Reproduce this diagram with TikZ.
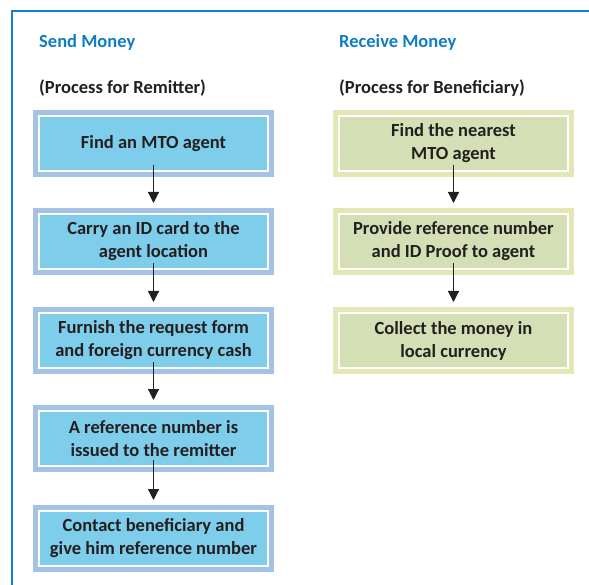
\documentclass[tikz,border=0pt]{standalone}
\usepackage{fontspec}
\setmainfont{Carlito}
\usetikzlibrary{arrows.meta}

\definecolor{frameBlue}{RGB}{21,128,200}
\definecolor{titleBlue}{HTML}{0F7DC2}
\definecolor{textDark}{HTML}{231F20}
\definecolor{sendFill}{HTML}{7ECDEA}
\definecolor{sendBand}{HTML}{A4C2E6}
\definecolor{recvFill}{HTML}{D4DFB5}
\definecolor{recvBand}{HTML}{E4E6B6}

\tikzset{
	stepBox/.style={rectangle, minimum width=229pt, minimum height=55pt,
		inner sep=0pt, outer sep=0pt, line width=2pt, draw=white,
		align=center, text=textDark,
		font=\bfseries\fontsize{18.5}{23}\selectfont},
	sendBox/.style={stepBox, fill=sendFill, preaction={draw=sendBand, line width=12pt}},
	recvBox/.style={stepBox, fill=recvFill, preaction={draw=recvBand, line width=12pt}},
	headText/.style={anchor=base west, inner sep=0pt, font=\bfseries\fontsize{18.5}{23}\selectfont},
	flow/.style={draw=textDark, line width=1.2pt, -{Triangle[width=11pt,length=11pt]},
		shorten <=-6pt, shorten >=11pt}
}

\begin{document}
\begin{tikzpicture}[x=1pt,y=-1pt]
	\useasboundingbox (0,0) rectangle (589,585);
	
	% frame
	\draw[color=frameBlue, line width=2pt] (11.5,586) -- (11.5,11.5) -- (590,11.5);
	
	% headings
	\node[headText, text=titleBlue] (sendTitle) at (39,48) {Send Money};
	\node[headText, text=textDark] (sendSub) at (39,94) {(Process for Remitter)};
	\node[headText, text=titleBlue] (recvTitle) at (339,48) {Receive Money};
	\node[headText, text=textDark] (recvSub) at (339,94) {(Process for Beneficiary)};
	
	% send money steps
	\node[sendBox] (send1) at (153.5,143.5) {Find an MTO agent};
	\node[sendBox] (send2) at (153.5,241.5) {Carry an ID card to the\\agent location};
	\node[sendBox] (send3) at (153.5,340.5) {Furnish the request form\\and foreign currency cash};
	\node[sendBox] (send4) at (153.5,438.5) {A reference number is\\issued to the remitter};
	\node[sendBox] (send5) at (153.5,538.5) {Contact beneficiary and\\give him reference number};
	
	% receive money steps
	\node[recvBox] (recv1) at (453.5,143.5) {Find the nearest\\MTO agent};
	\node[recvBox] (recv2) at (453.5,241.5) {Provide reference number\\and ID Proof to agent};
	\node[recvBox] (recv3) at (453.5,340.5) {Collect the money in\\local currency};
	
	% arrows
	\draw[flow] (send1) -- (send2);
	\draw[flow] (send2) -- (send3);
	\draw[flow] (send3) -- (send4);
	\draw[flow] (send4) -- (send5);
	\draw[flow] (recv1) -- (recv2);
	\draw[flow] (recv2) -- (recv3);
	
\end{tikzpicture}
\end{document}
